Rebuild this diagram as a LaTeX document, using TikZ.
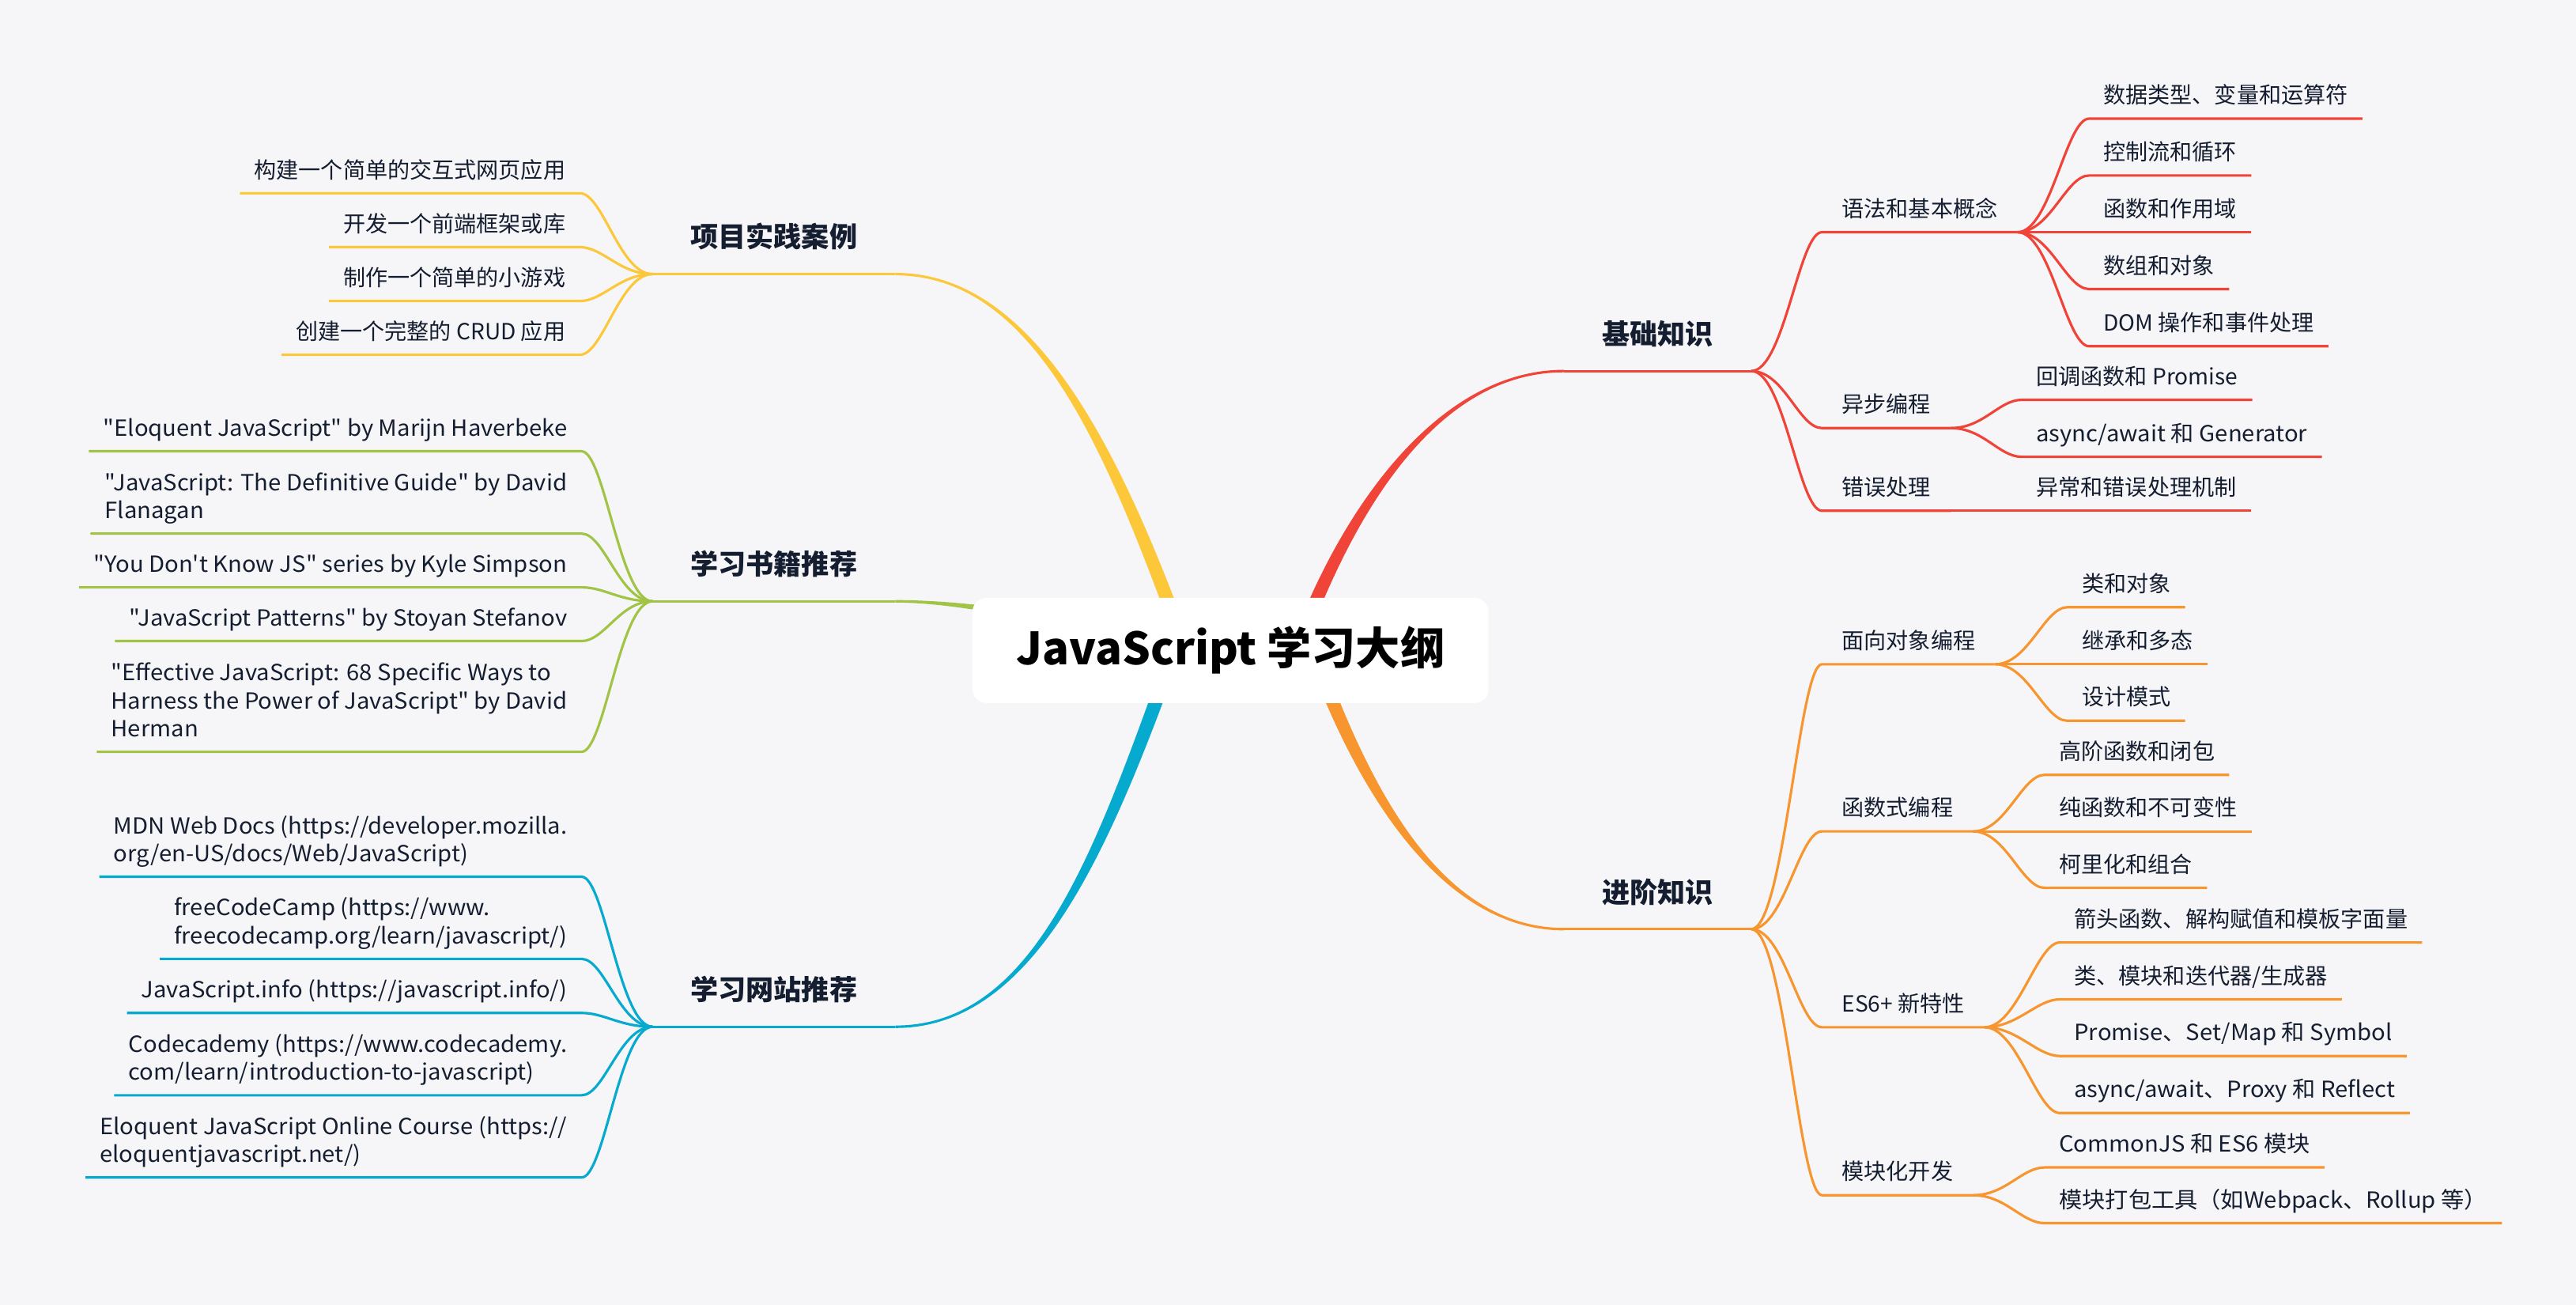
\documentclass[tikz,border=0pt]{standalone}
\usepackage{fontspec}
\setmainfont{Noto Sans CJK SC}
\newfontfamily\plainfont{Noto Sans CJK SC}
\newfontfamily\latinfont{Noto Sans CJK SC}[FakeStretch=1.04]
\usepackage{tikz}
\usetikzlibrary{calc,backgrounds}

\definecolor{mapbg}{RGB}{246,246,248}
\definecolor{ink}{RGB}{20,30,48}
\definecolor{cRed}{RGB}{240,68,56}
\definecolor{cOrange}{RGB}{247,150,47}
\definecolor{cYellow}{RGB}{252,200,58}
\definecolor{cGreen}{RGB}{161,196,71}
\definecolor{cBlue}{RGB}{6,170,206}

% tapered main branch: colour, start, control 1, control 2, end, start offset, end offset
\newcommand{\thickbranch}[7]{%
  \fill[#1] ($(#2)+(#6)$) .. controls ($(#3)+(#6)$) and ($(#4)+(#7)$) .. ($(#5)+(#7)$)
    -- ($(#5)-(#7)$) .. controls ($(#4)-(#7)$) and ($(#3)-(#6)$) .. ($(#2)-(#6)$) -- cycle;}

\begin{document}
\plainfont
\begin{tikzpicture}[
  x=0.02078cm, y=-0.02078cm,
  root/.style={fill=white, rounded corners=0.18cm, minimum width=6.53cm, minimum height=1.33cm,
    font=\plainfont\bfseries\fontsize{16}{19}\selectfont, text=black},
  topic/.style={font=\plainfont\bfseries\fontsize{10}{12}\selectfont, text=ink, inner xsep=13.5pt, inner ysep=5.8pt,
    execute at end node=\strut},
  sub/.style={font=\plainfont\fontsize{8}{10}\selectfont, text=ink, inner xsep=7pt, inner ysep=2.3pt,
    anchor=south west, execute at end node=\strut},
  leaf/.style={font=\plainfont\fontsize{8}{10}\selectfont, text=ink, inner xsep=5pt, inner ysep=2.3pt,
    align=left, execute at end node=\strut},
  leafR/.style={leaf, anchor=south west},
  leafL/.style={leaf, anchor=south east},
  enleafR/.style={leafR, font=\latinfont\fontsize{8}{10}\selectfont},
  enleaf/.style={leafL, font=\latinfont\fontsize{8}{10}\selectfont},
  ln/.style={draw=#1, line width=0.9pt},
  rcurve/.style={to path={.. controls +(20,0) and +(-14,0) .. (\tikztotarget)}},
  lcurve/.style={to path={.. controls +(-20,0) and +(14,0) .. (\tikztotarget)}}
]
\useasboundingbox (0,0) rectangle (1568,794);

\node[root] (root) at (749,395.8) {JavaScript 学习大纲};

% main topics
\node[topic, anchor=south west] (basics) at (952,225.8) {基础知识};
\node[topic, anchor=south west] (advanced) at (952,565.4) {进阶知识};
\node[topic, anchor=south east] (projects) at (545,166.8) {项目实践案例};
\node[topic, anchor=south east] (books) at (545,365.9) {学习书籍推荐};
\node[topic, anchor=south east] (sites) at (545,624.8) {学习网站推荐};

% basics
\node[sub] (syntax) at (1109,141.3) {语法和基本概念};
\node[sub] (asyncProg) at (1109,260.5) {异步编程};
\node[sub] (errors) at (1109,310.8) {错误处理};
\node[leafR] (dataTypes) at (1271.6,72.2) {数据类型、变量和运算符};
\node[leafR] (controlFlow) at (1271.6,106.8) {控制流和循环};
\node[leafR] (funcScope) at (1271.6,141.3) {函数和作用域};
\node[leafR] (arraysObj) at (1271.6,175.9) {数组和对象};
\node[leafR] (domEvents) at (1271.6,210.7) {DOM 操作和事件处理};
\node[leafR] (callbacks) at (1230.7,243.3) {回调函数和 Promise};
\node[enleafR] (asyncAwait) at (1230.7,278) {async/await 和 Generator};
\node[leafR] (exceptions) at (1230.7,310.8) {异常和错误处理机制};

% advanced
\node[sub] (oop) at (1109,404.2) {面向对象编程};
\node[sub] (funcProg) at (1109,505.9) {函数式编程};
\node[sub] (es6) at (1109,625.1) {ES6+ 新特性};
\node[sub] (modules) at (1109,727.3) {模块化开发};
\node[leafR] (classObj) at (1258.4,369.5) {类和对象};
\node[leafR] (inherit) at (1258.4,404.2) {继承和多态};
\node[leafR] (designPat) at (1258.4,438.6) {设计模式};
\node[leafR] (higherOrder) at (1244.6,471.5) {高阶函数和闭包};
\node[leafR] (pureFunc) at (1244.6,505.9) {纯函数和不可变性};
\node[leafR] (currying) at (1244.6,540.3) {柯里化和组合};
\node[leafR] (arrowFn) at (1253.8,573.5) {箭头函数、解构赋值和模板字面量};
\node[leafR] (classMod) at (1253.8,608.1) {类、模块和迭代器/生成器};
\node[enleafR] (promiseSet) at (1253.8,642.6) {Promise、Set/Map 和 Symbol};
\node[enleafR] (proxyRefl) at (1253.8,677.3) {async/await、Proxy 和 Reflect};
\node[enleafR] (commonjs) at (1244.6,710.4) {CommonJS 和 ES6 模块};
\node[enleafR] (bundlers) at (1244.6,744.3) {模块打包工具（如Webpack、Rollup 等）};

% projects
\node[leafL] (buildApp) at (353,117.6) {构建一个简单的交互式网页应用};
\node[leafL] (frontLib) at (353,150.4) {开发一个前端框架或库};
\node[leafL] (miniGame) at (353,183.2) {制作一个简单的小游戏};
\node[leafL] (crudApp) at (353,215.9) {创建一个完整的 CRUD 应用};

% books
\node[enleaf] (bookEloquent) at (354,274.6) {"Eloquent JavaScript" by Marijn Haverbeke};
\node[enleaf] (bookGuide) at (354,324.7) {"JavaScript: The Definitive Guide" by David\\Flanagan};
\node[enleaf] (bookYdkjs) at (354,357.4) {"You Don't Know JS" series by Kyle Simpson};
\node[enleaf] (bookPatterns) at (354,390.1) {"JavaScript Patterns" by Stoyan Stefanov};
\node[enleaf] (bookEffective) at (354,457.5) {"Effective JavaScript: 68 Specific Ways to\\Harness the Power of JavaScript" by David\\Herman};

% sites
\node[enleaf] (siteMdn) at (354,533.5) {MDN Web Docs (https://developer.mozilla.\\org/en-US/docs/Web/JavaScript)};
\node[enleaf] (siteFcc) at (354,583.5) {freeCodeCamp (https://www.\\freecodecamp.org/learn/javascript/)};
\node[enleaf] (siteJsinfo) at (354,616.4) {JavaScript.info (https://javascript.info/)};
\node[enleaf] (siteCodecademy) at (354,666.5) {Codecademy (https://www.codecademy.\\com/learn/introduction-to-javascript)};
\node[enleaf] (siteEloquent) at (354,716.5) {Eloquent JavaScript Online Course (https://\\eloquentjavascript.net/)};

% thick branches under the root box
\coordinate (redStart) at ($(root.center)+(40,0)$);
\coordinate (orangeStart) at ($(root.center)+(50,0)$);
\coordinate (yellowStart) at ($(root.center)+(-27,0)$);
\coordinate (greenStart) at ($(root.center)+(-75,-11)$);
\coordinate (blueStart) at ($(root.center)+(-34,0)$);
\begin{scope}[on background layer]
  \fill[mapbg] (0,0) rectangle (1568,794);
  \thickbranch{cRed}{redStart}{821.9,305.1}{877.8,225.7}{basics.south west}{-4.5,0}{0,-0.76}
  \thickbranch{cOrange}{orangeStart}{831.6,486}{879.7,565.4}{advanced.south west}{-4.5,0}{0,0.76}
  \thickbranch{cYellow}{yellowStart}{679,278}{631.4,166.8}{projects.south east}{4.5,0}{0,-0.76}
  \thickbranch{cGreen}{greenStart}{625.6,373}{577.5,365.9}{books.south east}{0,-2.8}{0,-0.76}
  \thickbranch{cBlue}{blueStart}{672.3,513.2}{631.4,624.8}{sites.south east}{4.5,0}{0,0.76}
\end{scope}

% basics connectors
\draw[ln=cRed] (basics.south west) -- (basics.south east);
\draw[ln=cRed] (basics.south east) to[rcurve] (syntax.south west) -- (syntax.south east);
\draw[ln=cRed] (basics.south east) to[rcurve] (asyncProg.south west) -- (asyncProg.south east);
\draw[ln=cRed] (basics.south east) to[rcurve] (errors.south west) -- (errors.south east);
\draw[ln=cRed] (syntax.south east) to[rcurve] (dataTypes.south west) -- (dataTypes.south east);
\draw[ln=cRed] (syntax.south east) to[rcurve] (controlFlow.south west) -- (controlFlow.south east);
\draw[ln=cRed] (syntax.south east) to[rcurve] (funcScope.south west) -- (funcScope.south east);
\draw[ln=cRed] (syntax.south east) to[rcurve] (arraysObj.south west) -- (arraysObj.south east);
\draw[ln=cRed] (syntax.south east) to[rcurve] (domEvents.south west) -- (domEvents.south east);
\draw[ln=cRed] (asyncProg.south east) to[rcurve] (callbacks.south west) -- (callbacks.south east);
\draw[ln=cRed] (asyncProg.south east) to[rcurve] (asyncAwait.south west) -- (asyncAwait.south east);
\draw[ln=cRed] (errors.south east) -- (exceptions.south west) -- (exceptions.south east);

% advanced connectors
\draw[ln=cOrange] (advanced.south west) -- (advanced.south east);
\draw[ln=cOrange] (advanced.south east) to[rcurve] (oop.south west) -- (oop.south east);
\draw[ln=cOrange] (advanced.south east) to[rcurve] (funcProg.south west) -- (funcProg.south east);
\draw[ln=cOrange] (advanced.south east) to[rcurve] (es6.south west) -- (es6.south east);
\draw[ln=cOrange] (advanced.south east) to[rcurve] (modules.south west) -- (modules.south east);
\draw[ln=cOrange] (oop.south east) to[rcurve] (classObj.south west) -- (classObj.south east);
\draw[ln=cOrange] (oop.south east) to[rcurve] (inherit.south west) -- (inherit.south east);
\draw[ln=cOrange] (oop.south east) to[rcurve] (designPat.south west) -- (designPat.south east);
\draw[ln=cOrange] (funcProg.south east) to[rcurve] (higherOrder.south west) -- (higherOrder.south east);
\draw[ln=cOrange] (funcProg.south east) to[rcurve] (pureFunc.south west) -- (pureFunc.south east);
\draw[ln=cOrange] (funcProg.south east) to[rcurve] (currying.south west) -- (currying.south east);
\draw[ln=cOrange] (es6.south east) to[rcurve] (arrowFn.south west) -- (arrowFn.south east);
\draw[ln=cOrange] (es6.south east) to[rcurve] (classMod.south west) -- (classMod.south east);
\draw[ln=cOrange] (es6.south east) to[rcurve] (promiseSet.south west) -- (promiseSet.south east);
\draw[ln=cOrange] (es6.south east) to[rcurve] (proxyRefl.south west) -- (proxyRefl.south east);
\draw[ln=cOrange] (modules.south east) to[rcurve] (commonjs.south west) -- (commonjs.south east);
\draw[ln=cOrange] (modules.south east) to[rcurve] (bundlers.south west) -- (bundlers.south east);

% projects connectors
\draw[ln=cYellow] (projects.south east) -- (projects.south west);
\draw[ln=cYellow] (projects.south west) to[lcurve] (buildApp.south east) -- (buildApp.south west);
\draw[ln=cYellow] (projects.south west) to[lcurve] (frontLib.south east) -- (frontLib.south west);
\draw[ln=cYellow] (projects.south west) to[lcurve] (miniGame.south east) -- (miniGame.south west);
\draw[ln=cYellow] (projects.south west) to[lcurve] (crudApp.south east) -- (crudApp.south west);

% books connectors
\draw[ln=cGreen] (books.south east) -- (books.south west);
\draw[ln=cGreen] (books.south west) to[lcurve] (bookEloquent.south east) -- (bookEloquent.south west);
\draw[ln=cGreen] (books.south west) to[lcurve] (bookGuide.south east) -- (bookGuide.south west);
\draw[ln=cGreen] (books.south west) to[lcurve] (bookYdkjs.south east) -- (bookYdkjs.south west);
\draw[ln=cGreen] (books.south west) to[lcurve] (bookPatterns.south east) -- (bookPatterns.south west);
\draw[ln=cGreen] (books.south west) to[lcurve] (bookEffective.south east) -- (bookEffective.south west);

% sites connectors
\draw[ln=cBlue] (sites.south east) -- (sites.south west);
\draw[ln=cBlue] (sites.south west) to[lcurve] (siteMdn.south east) -- (siteMdn.south west);
\draw[ln=cBlue] (sites.south west) to[lcurve] (siteFcc.south east) -- (siteFcc.south west);
\draw[ln=cBlue] (sites.south west) to[lcurve] (siteJsinfo.south east) -- (siteJsinfo.south west);
\draw[ln=cBlue] (sites.south west) to[lcurve] (siteCodecademy.south east) -- (siteCodecademy.south west);
\draw[ln=cBlue] (sites.south west) to[lcurve] (siteEloquent.south east) -- (siteEloquent.south west);
\end{tikzpicture}
\end{document}
